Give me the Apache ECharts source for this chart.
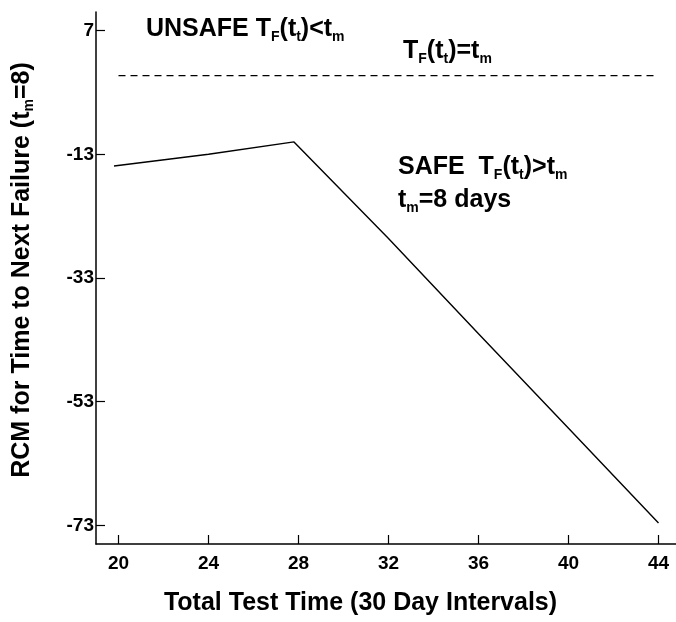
<!DOCTYPE html>
<html>
<head>
<meta charset="utf-8">
<script src="https://cdn.jsdelivr.net/npm/echarts@6/dist/echarts.min.js"></script>
<style>
html,body{margin:0;padding:0;background:#fff;}
#chart{width:676px;height:622px;}
</style>
</head>
<body>
<div id="chart"></div>
<script>
// ---- data ----
var rcmX = [19.8, 24, 27.8, 32, 36, 40, 44];
var rcmY = [-14.9, -13.0, -11.0, -26.6, -42.0, -57.3, -72.6];
var thresholdX = [20, 44];
var thresholdY = [-0.3, -0.3];
var xTicks = [20, 24, 28, 32, 36, 40, 44];
var yTicks = [7, -13, -33, -53, -73];

var FONT = '"Liberation Sans", Arial, Helvetica, sans-serif';

function pairs(xs, ys) {
  var out = [];
  for (var i = 0; i < xs.length; i++) out.push([xs[i], ys[i]]);
  return out;
}

var richMain = {
  a: { fontFamily: FONT, fontWeight: 'bold', fontSize: 25, lineHeight: 29, color: '#000' },
  s: { fontFamily: FONT, fontWeight: 'bold', fontSize: 14, lineHeight: 14, verticalAlign: 'bottom', color: '#000' }
};

function annot(left, top, text) {
  return {
    type: 'text',
    left: left,
    top: top,
    style: {
      text: text,
      rich: richMain,
      fill: '#000',
      font: 'bold 25px ' + FONT
    }
  };
}

var chart = echarts.init(document.getElementById('chart'), null, { renderer: 'canvas' });

chart.setOption({
  animation: false,
  backgroundColor: '#fff',
  grid: { left: 96, right: -5, top: 12, bottom: 78, containLabel: false, outerBoundsMode: 'none' },
  xAxis: {
    type: 'value',
    min: 19,
    max: 45,
    name: 'Total Test Time (30 Day Intervals)',
    nameLocation: 'middle',
    nameGap: 47,
    nameTextStyle: {
      fontFamily: FONT, fontWeight: 'bold', fontSize: 25, color: '#000',
      padding: [0, 56, 0, 0]
    },
    axisLine: { show: true, onZero: false, lineStyle: { color: '#000', width: 1.5 } },
    axisTick: { show: true, inside: true, length: 9, customValues: xTicks, lineStyle: { color: '#000', width: 1.2 } },
    axisLabel: { customValues: xTicks, margin: 10, fontFamily: FONT, fontWeight: 'bold', fontSize: 19, color: '#000' },
    splitLine: { show: false }
  },
  yAxis: {
    type: 'value',
    min: -76,
    max: 10,
    name: '{a|RCM for Time to Next Failure (t}{s|m}{a|=8)}',
    nameLocation: 'middle',
    nameRotate: 90,
    nameGap: 60,
    nameTextStyle: {
      padding: [0, 0, 0, 16],
      rich: {
        a: { fontFamily: FONT, fontWeight: 'bold', fontSize: 25, lineHeight: 27, color: '#000' },
        s: { fontFamily: FONT, fontWeight: 'bold', fontSize: 14, lineHeight: 14, verticalAlign: 'bottom', color: '#000' }
      }
    },
    axisLine: { show: true, onZero: false, lineStyle: { color: '#000', width: 1.5 } },
    axisTick: { show: true, inside: true, length: 9, customValues: yTicks, lineStyle: { color: '#000', width: 1.2 } },
    axisLabel: { customValues: yTicks, margin: 2, fontFamily: FONT, fontWeight: 'bold', fontSize: 19, color: '#000' },
    splitLine: { show: false }
  },
  series: [
    {
      type: 'line',
      data: pairs(rcmX, rcmY),
      symbol: 'none',
      lineStyle: { color: '#000', width: 1.4 }
    },
    {
      type: 'line',
      data: pairs(thresholdX, thresholdY),
      symbol: 'none',
      lineStyle: { color: '#000', width: 1.2, type: [7, 5] }
    }
  ],
  graphic: [
    annot(146, 17, '{a|UNSAFE T}{s|F}{a|(t}{s|t}{a|)<t}{s|m}'),
    annot(403, 39, '{a|T}{s|F}{a|(t}{s|t}{a|)=t}{s|m}'),
    annot(398, 155, '{a|SAFE  T}{s|F}{a|(t}{s|t}{a|)>t}{s|m}'),
    annot(398, 188, '{a|t}{s|m}{a|=8 days}')
  ]
});
</script>
</body>
</html>
